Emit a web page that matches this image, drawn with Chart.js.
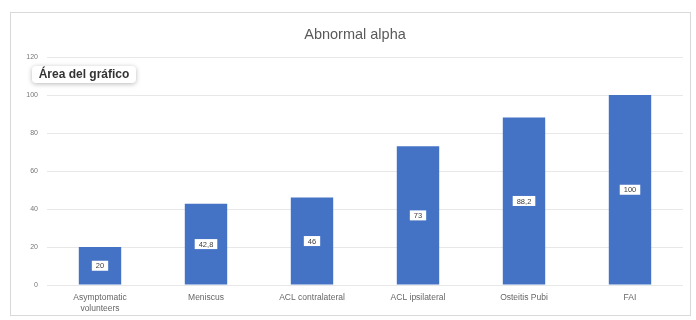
<!DOCTYPE html>
<html>
<head>
<meta charset="utf-8">
<script src="https://cdn.jsdelivr.net/npm/chart.js@4"></script>
<style>
  html, body { margin: 0; padding: 0; background: #fff; }
  #wrap { position: relative; width: 696px; height: 320px; }
  #frame { position: absolute; left: 10px; top: 12px; width: 681px; height: 304px;
           border: 1px solid #d9d9d9; box-sizing: border-box; }
  #chipLabel { position: absolute; left: 32px; top: 66px; width: 104px; height: 17px;
               background: #fff; border-radius: 4px; box-shadow: 0 1px 5px rgba(0,0,0,0.28);
               font: bold 12px "Liberation Sans", Arial, sans-serif; color: #333;
               line-height: 17px; text-align: center; }
</style>
</head>
<body>
<div id="wrap">
  <div id="frame"></div>
  <canvas id="c" width="696" height="320"></canvas>
  <div id="chipLabel">Área del gráfico</div>
</div>
<script>
const categories = [["Asymptomatic", "volunteers"], "Meniscus", "ACL contralateral", "ACL ipsilateral", "Osteitis Pubi", "FAI"];
const values = [20, 42.8, 46, 73, 88.2, 100];
const yTicks = [0, 20, 40, 60, 80, 100, 120];
const chartTitle = 'Abnormal alpha';

const FONT = '"Liberation Sans", Arial, sans-serif';

// chart title, centred over the frame
const titleText = {
  id: 'titleText',
  afterDraw(chart) {
    const ctx = chart.ctx;
    ctx.save();
    ctx.font = '14.5px ' + FONT;
    ctx.fillStyle = '#595959';
    ctx.textAlign = 'center';
    ctx.textBaseline = 'middle';
    ctx.fillText(chartTitle, 355, 35);
    ctx.restore();
  }
};

// white boxes with the value in the middle of each bar
const valueBoxes = {
  id: 'valueBoxes',
  afterDatasetsDraw(chart) {
    const ctx = chart.ctx;
    const meta = chart.getDatasetMeta(0);
    ctx.save();
    ctx.font = '7.5px ' + FONT;
    ctx.textAlign = 'center';
    ctx.textBaseline = 'middle';
    meta.data.forEach((bar, i) => {
      const txt = String(values[i]).replace('.', ',');
      const w = ctx.measureText(txt).width + 8;
      const h = 10;
      const cy = (bar.y + bar.base) / 2;
      ctx.fillStyle = '#ffffff';
      ctx.fillRect(bar.x - w / 2, cy - h / 2, w, h);
      ctx.fillStyle = '#404040';
      ctx.fillText(txt, bar.x, cy + 0.5);
    });
    ctx.restore();
  }
};

new Chart(document.getElementById('c'), {
  type: 'bar',
  data: {
    labels: categories,
    datasets: [{
      data: values,
      backgroundColor: '#4472C4',
      borderWidth: 0,
      categoryPercentage: 1,
      barPercentage: 0.4
    }]
  },
  options: {
    responsive: false,
    animation: false,
    layout: { padding: { left: 0, right: 13, top: 57, bottom: 0 } },
    plugins: {
      legend: { display: false },
      tooltip: { enabled: false },
      title: { display: false }
    },
    scales: {
      x: {
        grid: { display: false },
        border: { display: false },
        ticks: { color: '#666', font: { family: FONT, size: 8.5 }, padding: 0, maxRotation: 0, autoSkip: false },
        afterFit(s) { s.height = 35; }
      },
      y: {
        min: 0, max: 120,
        afterBuildTicks(s) { s.ticks = yTicks.map(v => ({ value: v })); },
        grid: { color: '#e8e8e8', drawTicks: false, lineWidth: 1 },
        border: { display: false },
        ticks: { color: '#777', font: { family: FONT, size: 7 }, padding: 9 },
        afterFit(s) { s.width = 47; }
      }
    }
  },
  plugins: [valueBoxes, titleText]
});
</script>
</body>
</html>
